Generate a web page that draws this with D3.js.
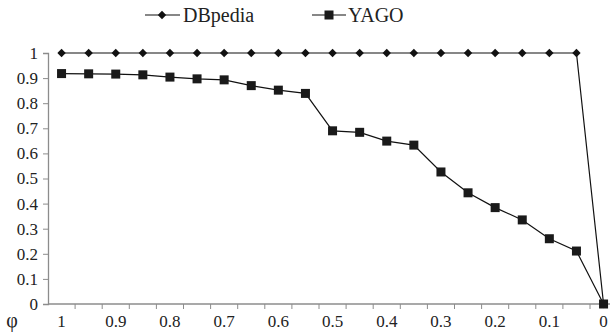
<!DOCTYPE html>
<html>
<head>
<meta charset="utf-8">
<script src="https://cdn.jsdelivr.net/npm/d3@7"></script>
<style>
  body { margin: 0; background: #fff; }
</style>
</head>
<body>
<div id="chart"></div>
<script>
// threshold values (x categories), read left to right
var phi = ["1", "0.95", "0.9", "0.85", "0.8", "0.75", "0.7", "0.65", "0.6", "0.55", "0.5",
           "0.45", "0.4", "0.35", "0.3", "0.25", "0.2", "0.15", "0.1", "0.05", "0"];
var xLabels = ["1", "0.9", "0.8", "0.7", "0.6", "0.5", "0.4", "0.3", "0.2", "0.1", "0"];
var dbpedia = [1, 1, 1, 1, 1, 1, 1, 1, 1, 1, 1, 1, 1, 1, 1, 1, 1, 1, 1, 1, 0];
var yago = [0.918, 0.917, 0.916, 0.913, 0.904, 0.897, 0.893, 0.870, 0.852, 0.839, 0.690,
            0.684, 0.649, 0.633, 0.526, 0.443, 0.384, 0.335, 0.260, 0.211, 0];
var yTicks = [0, 0.1, 0.2, 0.3, 0.4, 0.5, 0.6, 0.7, 0.8, 0.9, 1];

var svgWidth = 610;
var svgHeight = 332;
var axisColor = "#8c8c8c";
var serif = "'Liberation Serif', 'Times New Roman', serif";

var svg = d3.select("#chart")
  .append("svg")
  .attr("width", svgWidth)
  .attr("height", svgHeight)
  .attr("font-family", serif);

// scales: the plot is cut off at the right edge, like the source image
var xScale = d3.scaleBand().domain(phi).range([48, 48 + 21 * 27.1]).padding(0);
var yScale = d3.scaleLinear().domain([0, 1]).range([304, 53]);
var xc = d => xScale(d) + xScale.bandwidth() / 2;

// y axis
var yAxis = svg.append("g")
  .attr("transform", "translate(48,0)")
  .call(d3.axisLeft(yScale).tickValues(yTicks).tickSize(5).tickPadding(5)
    .tickFormat(d => d3.format("")(+d.toFixed(1))));
yAxis.attr("font-family", serif).attr("font-size", 17);
yAxis.select(".domain").attr("stroke", axisColor).attr("stroke-width", 1.3);
yAxis.selectAll(".tick line").attr("stroke", axisColor);
yAxis.selectAll("text").style("font-family", serif).style("font-size", "17px").attr("fill", "#222");

// x axis: ticks on category boundaries
var xAxis = svg.append("g").attr("transform", "translate(0,304)");
xAxis.append("line")
  .attr("x1", 48).attr("x2", svgWidth)
  .attr("stroke", axisColor).attr("stroke-width", 1.3);
xAxis.selectAll(".xt")
  .data(phi)
  .enter()
  .append("line")
  .attr("x1", d => xScale(d) + xScale.bandwidth())
  .attr("x2", d => xScale(d) + xScale.bandwidth())
  .attr("y1", 0).attr("y2", 5)
  .attr("stroke", axisColor);
xAxis.selectAll(".xl")
  .data(xLabels)
  .enter()
  .append("text")
  .attr("x", d => xc(d))
  .attr("y", 23)
  .attr("text-anchor", "middle")
  .attr("fill", "#222")
  .style("font-family", serif)
  .style("font-size", "17px")
  .text(d => d);

svg.append("text")
  .attr("x", 12).attr("y", 327)
  .attr("text-anchor", "middle")
  .attr("fill", "#222")
  .style("font-family", serif)
  .style("font-size", "20px")
  .text("φ");

// lines
var line = d3.line().x((d, i) => xc(phi[i])).y(d => yScale(d));

svg.append("path").datum(dbpedia)
  .attr("d", line).attr("fill", "none").attr("stroke", "#111").attr("stroke-width", 1.2);
svg.append("path").datum(yago)
  .attr("d", line).attr("fill", "none").attr("stroke", "#111").attr("stroke-width", 1.2);

// markers
var diamond = d3.symbol().type(d3.symbolDiamond2).size(45);
svg.selectAll(".db")
  .data(dbpedia)
  .enter()
  .append("path")
  .attr("d", diamond)
  .attr("transform", (d, i) => `translate(${xc(phi[i])},${yScale(d)})`)
  .attr("fill", "#111");

svg.selectAll(".yg")
  .data(yago)
  .enter()
  .append("rect")
  .attr("x", (d, i) => xc(phi[i]) - 4.5)
  .attr("y", d => yScale(d) - 4.5)
  .attr("width", 9).attr("height", 9)
  .attr("fill", "#1a1a1a");

// legend
var legend = svg.append("g");
legend.append("line").attr("x1", 145).attr("x2", 180).attr("y1", 15).attr("y2", 15)
  .attr("stroke", "#111").attr("stroke-width", 1.2);
legend.append("path").attr("d", diamond).attr("transform", "translate(162,15)").attr("fill", "#111");
legend.append("text").attr("x", 183).attr("y", 22).attr("fill", "#222")
  .style("font-family", serif).style("font-size", "20px").text("DBpedia");

legend.append("line").attr("x1", 312).attr("x2", 346).attr("y1", 15).attr("y2", 15)
  .attr("stroke", "#111").attr("stroke-width", 1.2);
legend.append("rect").attr("x", 324.5).attr("y", 10.5).attr("width", 9).attr("height", 9).attr("fill", "#1a1a1a");
legend.append("text").attr("x", 348).attr("y", 22).attr("fill", "#222")
  .style("font-family", serif).style("font-size", "20px").text("YAGO");
</script>
</body>
</html>
